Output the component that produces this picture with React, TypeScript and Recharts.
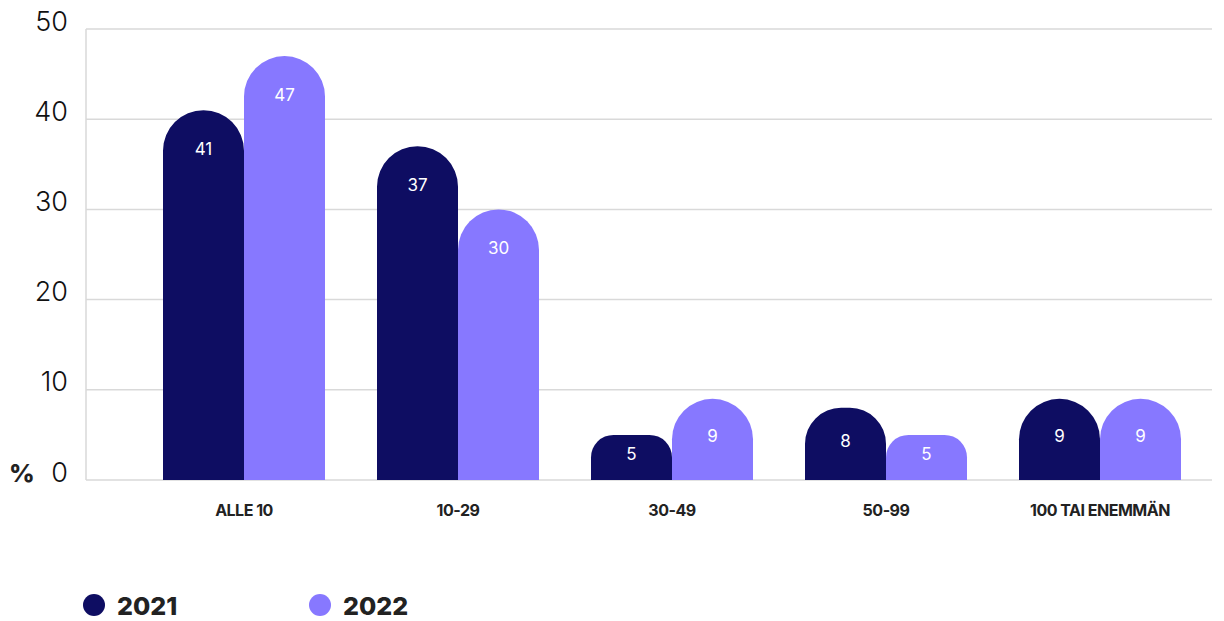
import { BarChart, Bar, XAxis, YAxis, CartesianGrid, Legend, LabelList, Rectangle } from "recharts";

const categories = ["ALLE 10", "10-29", "30-49", "50-99", "100 TAI ENEMMÄN"];
const values2021 = [41, 37, 5, 8, 9];
const values2022 = [47, 30, 9, 5, 9];
const yTicks = [0, 10, 20, 30, 40, 50];

const COLOR_2021 = "#0e0d62";
const COLOR_2022 = "#8778ff";
const FONT = "Inter, 'Noto Sans', sans-serif";

const data = categories.map((name, i) => ({
  name,
  y2021: values2021[i],
  y2022: values2022[i],
}));

// pill-shaped top; radius capped at half the height so short bars stay flat-ish
const PillBar = (props: any) => {
  const { x, y, width, height, fill } = props;
  const r = Math.min(width / 2, height / 2);
  return <Rectangle x={x} y={y} width={width} height={height} fill={fill} radius={[r, r, 0, 0]} />;
};

const BarValue = (props: any) => {
  const { x, y, width, height, value } = props;
  const offset = Math.min(39, height / 2 - 3);
  return (
    <text
      x={x + width / 2}
      y={y + offset}
      fill="#ffffff"
      fontSize={17}
      fontFamily={FONT}
      textAnchor="middle"
      dominantBaseline="central"
    >
      {value}
    </text>
  );
};

const YTick = (props: any) => {
  const { x, y, payload } = props;
  return (
    <g>
      <text
        x={x}
        y={y - 8}
        fill="#111"
        fontSize={27}
        fontWeight={300}
        fontFamily={FONT}
        textAnchor="end"
        dominantBaseline="central"
      >
        {payload.value}
      </text>
      {payload.value === 0 && (
        <text x={9} y={y - 7} fill="#222" fontSize={25} fontWeight={800} fontFamily={FONT} dominantBaseline="central">
          %
        </text>
      )}
    </g>
  );
};

const XTick = (props: any) => {
  const { x, payload } = props;
  return (
    <text
      x={x}
      y={510}
      fill="#222"
      fontSize={16}
      fontWeight={700}
      letterSpacing={-0.5}
      fontFamily={FONT}
      textAnchor="middle"
      dominantBaseline="central"
    >
      {payload.value}
    </text>
  );
};

const LegendContent = () => {
  const items = [
    { label: "2021", color: COLOR_2021, x: 94 },
    { label: "2022", color: COLOR_2022, x: 320 },
  ];
  return (
    <svg width={1224} height={40}>
      {items.map((it) => (
        <g key={it.label}>
          <circle cx={it.x} cy={20} r={11} fill={it.color} />
          <text
            x={it.x + 23}
            y={21}
            fontSize={25}
            fontWeight={800}
            fill="#222"
            fontFamily={FONT}
            dominantBaseline="central"
          >
            {it.label}
          </text>
        </g>
      ))}
    </svg>
  );
};

export default function App() {
  return (
    <div style={{ position: "absolute", left: 0, top: 0, background: "#fff" }}>
      <BarChart
        width={1224}
        height={621}
        data={data}
        margin={{ top: 29, right: 12, left: 0, bottom: 67 }}
        barSize={81}
        barGap={0}
      >
        <CartesianGrid horizontal vertical={false} stroke="#d9d9d9" strokeWidth={1.5} />
        <XAxis
          dataKey="name"
          axisLine={false}
          tickLine={false}
          padding={{ left: 51, right: 5 }}
          tick={<XTick />}
          interval={0}
        />
        <YAxis
          width={86}
          domain={[0, 50]}
          ticks={yTicks}
          axisLine={{ stroke: "#d9d9d9", strokeWidth: 1.5 }}
          tickLine={false}
          tick={<YTick />}
          tickMargin={12}
        />
        <Legend
          verticalAlign="bottom"
          content={<LegendContent />}
          wrapperStyle={{ left: 0, top: 585, width: 1224 }}
        />
        <Bar dataKey="y2021" fill={COLOR_2021} shape={<PillBar />} isAnimationActive={false}>
          <LabelList dataKey="y2021" content={<BarValue />} />
        </Bar>
        <Bar dataKey="y2022" fill={COLOR_2022} shape={<PillBar />} isAnimationActive={false}>
          <LabelList dataKey="y2022" content={<BarValue />} />
        </Bar>
      </BarChart>
    </div>
  );
}
